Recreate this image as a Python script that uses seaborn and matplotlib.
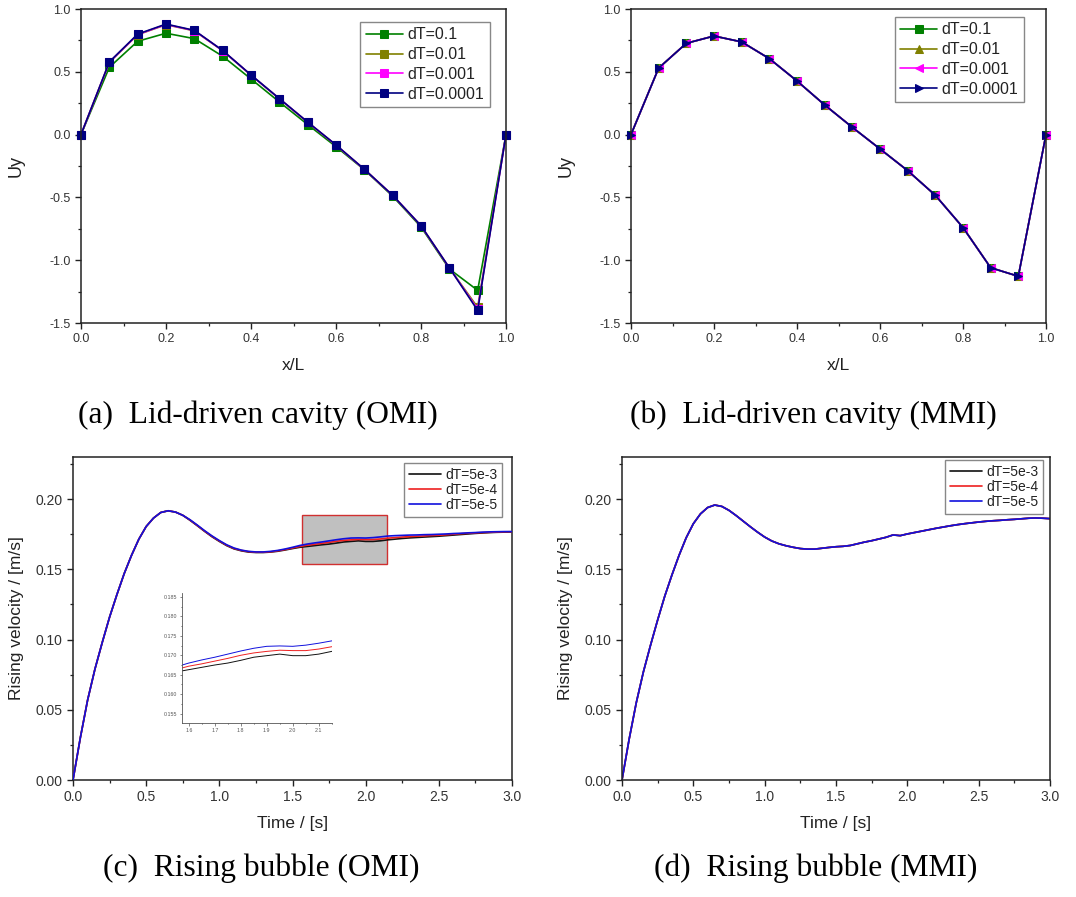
import numpy as np
import pandas as pd
import matplotlib
matplotlib.use("Agg")
import matplotlib.pyplot as plt
from matplotlib.ticker import MultipleLocator, FormatStrFormatter
from matplotlib.patches import Rectangle
import seaborn as sns

# ---------------- data ----------------
x_over_L = [0.0, 0.0667, 0.1333, 0.2, 0.2667, 0.3333, 0.4, 0.4667, 0.5333,
            0.6, 0.6667, 0.7333, 0.8, 0.8667, 0.9333, 1.0]

omi_dt_0_1 = [0, 0.536, 0.743, 0.807, 0.764, 0.624, 0.443, 0.260, 0.080,
              -0.096, -0.280, -0.490, -0.735, -1.070, -1.240, 0]
omi_dt_0_01 = [0, 0.575, 0.795, 0.875, 0.826, 0.668, 0.473, 0.285, 0.098,
               -0.084, -0.277, -0.484, -0.727, -1.062, -1.375, 0]
omi_dt_0_001 = [0, 0.577, 0.797, 0.877, 0.828, 0.669, 0.474, 0.286, 0.099,
                -0.083, -0.277, -0.483, -0.726, -1.061, -1.390, 0]
omi_dt_0_0001 = [0, 0.579, 0.800, 0.880, 0.830, 0.670, 0.475, 0.287, 0.100,
                 -0.082, -0.276, -0.483, -0.725, -1.060, -1.400, 0]

mmi_dt_0_1 = [0, 0.530, 0.727, 0.785, 0.738, 0.605, 0.427, 0.236, 0.058,
              -0.114, -0.287, -0.483, -0.740, -1.060, -1.128, 0]
mmi_dt_0_01 = [0, 0.530, 0.727, 0.785, 0.738, 0.605, 0.427, 0.236, 0.058,
               -0.114, -0.287, -0.483, -0.740, -1.060, -1.128, 0]
mmi_dt_0_001 = [0, 0.530, 0.727, 0.785, 0.738, 0.605, 0.427, 0.236, 0.058,
                -0.114, -0.287, -0.483, -0.740, -1.060, -1.128, 0]
mmi_dt_0_0001 = [0, 0.530, 0.727, 0.785, 0.738, 0.605, 0.427, 0.236, 0.058,
                 -0.114, -0.287, -0.483, -0.740, -1.060, -1.128, 0]

cavity_labels = ["dT=0.1", "dT=0.01", "dT=0.001", "dT=0.0001"]

time_s = [0.00, 0.05, 0.10, 0.15, 0.20, 0.25, 0.30, 0.35, 0.40, 0.45,
          0.50, 0.55, 0.60, 0.65, 0.70, 0.75, 0.80, 0.85, 0.90, 0.95,
          1.00, 1.05, 1.10, 1.15, 1.20, 1.25, 1.30, 1.35, 1.40, 1.45,
          1.50, 1.55, 1.60, 1.65, 1.70, 1.75, 1.80, 1.85, 1.90, 1.95,
          2.00, 2.05, 2.10, 2.15, 2.20, 2.25, 2.30, 2.35, 2.40, 2.45,
          2.50, 2.55, 2.60, 2.65, 2.70, 2.75, 2.80, 2.85, 2.90, 2.95, 3.00]

omi_v_5e3 = [0.0, 0.030, 0.057, 0.079, 0.098, 0.116, 0.132, 0.147, 0.160, 0.1715,
             0.1805, 0.1865, 0.1905, 0.1917, 0.1908, 0.1885, 0.1849, 0.1810, 0.1770, 0.1732,
             0.1699, 0.1669, 0.1646, 0.1632, 0.1623, 0.1620, 0.1620, 0.1623, 0.1629, 0.1638,
             0.1648, 0.1657, 0.1663, 0.1669, 0.1675, 0.1680, 0.1687, 0.1695, 0.1699, 0.1703,
             0.1699, 0.1699, 0.1703, 0.1710, 0.1715, 0.1720, 0.1724, 0.1727, 0.1730, 0.1733,
             0.1736, 0.1740, 0.1744, 0.1748, 0.1752, 0.1756, 0.1759, 0.1762, 0.1764, 0.1765, 0.1766]
omi_v_5e4 = [0.0, 0.030, 0.057, 0.079, 0.098, 0.116, 0.132, 0.147, 0.160, 0.1715,
             0.1805, 0.1865, 0.1905, 0.1917, 0.1908, 0.1885, 0.1851, 0.1812, 0.1772, 0.1735,
             0.1702, 0.1672, 0.1649, 0.1635, 0.1626, 0.1622, 0.1622, 0.1625, 0.1632, 0.1641,
             0.1652, 0.1663, 0.1672, 0.1678, 0.1685, 0.1692, 0.1700, 0.1706, 0.1710, 0.1713,
             0.1712, 0.1712, 0.1716, 0.1722, 0.1726, 0.1730, 0.1733, 0.1736, 0.1738, 0.1741,
             0.1743, 0.1746, 0.1750, 0.1754, 0.1757, 0.1760, 0.1762, 0.1764, 0.1766, 0.1767, 0.1768]
omi_v_5e5 = [0.0, 0.030, 0.057, 0.079, 0.098, 0.116, 0.132, 0.147, 0.160, 0.1715,
             0.1805, 0.1865, 0.1905, 0.1917, 0.1908, 0.1885, 0.1853, 0.1815, 0.1775, 0.1738,
             0.1705, 0.1675, 0.1652, 0.1637, 0.1628, 0.1624, 0.1624, 0.1628, 0.1635, 0.1645,
             0.1657, 0.1670, 0.1680, 0.1688, 0.1695, 0.1703, 0.1711, 0.1718, 0.1723, 0.1724,
             0.1723, 0.1726, 0.1731, 0.1737, 0.1740, 0.1742, 0.1744, 0.1745, 0.1747, 0.1748,
             0.1750, 0.1752, 0.1755, 0.1757, 0.1760, 0.1762, 0.1765, 0.1767, 0.1768, 0.1769, 0.1769]

mmi_v = [0.0, 0.029, 0.055, 0.077, 0.096, 0.114, 0.131, 0.146, 0.160, 0.1725,
         0.1825, 0.1895, 0.1940, 0.1958, 0.1948, 0.1920, 0.1883, 0.1843, 0.1803, 0.1765,
         0.1730, 0.1702, 0.1682, 0.1668, 0.1657, 0.1648, 0.1644, 0.1644, 0.1650, 0.1656,
         0.1661, 0.1664, 0.1670, 0.1682, 0.1694, 0.1704, 0.1716, 0.1728, 0.1745, 0.1740,
         0.1752, 0.1762, 0.1772, 0.1782, 0.1792, 0.1801, 0.1810, 0.1818, 0.1825, 0.1831,
         0.1837, 0.1842, 0.1846, 0.1849, 0.1853, 0.1856, 0.1860, 0.1864, 0.1866, 0.1864, 0.1861]

bubble_labels = ["dT=5e-3", "dT=5e-4", "dT=5e-5"]

# zoom window (x0, x1, y0, y1) of panel (c)
zoom_window = (1.567, 2.146, 0.1535, 0.1884)
inset_xlim = (1.574, 2.151)
inset_ylim = (0.1526, 0.1860)

captions = ["(a)  Lid-driven cavity (OMI)", "(b)  Lid-driven cavity (MMI)",
            "(c)  Rising bubble (OMI)", "(d)  Rising bubble (MMI)"]

# ---------------- style ----------------
sns.set_theme(style="ticks")
plt.rcParams.update({
    "font.family": ["Liberation Sans", "DejaVu Sans"],
    "axes.unicode_minus": False,
    "axes.edgecolor": "#222222",
    "axes.linewidth": 1.1,
    "xtick.color": "#222222",
    "ytick.color": "#222222",
    "xtick.labelcolor": "#333333",
    "ytick.labelcolor": "#333333",
    "xtick.direction": "out",
    "ytick.direction": "out",
    "xtick.major.size": 4.5,
    "ytick.major.size": 4.5,
    "xtick.minor.size": 2.5,
    "ytick.minor.size": 2.5,
    "xtick.major.width": 1.0,
    "ytick.major.width": 1.0,
    "xtick.minor.width": 0.9,
    "ytick.minor.width": 0.9,
    "axes.labelcolor": "#222222",
})

W, H = 1076, 897
fig = plt.figure(figsize=(W / 100, H / 100), dpi=100)


def px_axes(left, top, right, bottom):
    return fig.add_axes([left / W, 1 - bottom / H, (right - left) / W, (bottom - top) / H])


ax_a = px_axes(81, 9, 506, 323)
ax_b = px_axes(631, 9, 1046, 323)
ax_c = px_axes(73, 457, 512, 780)
ax_d = px_axes(622, 457, 1050, 780)

cav_colors = ["#008000", "#808000", "#ff00ff", "#000080"]


def legend(ax, anchor, size, spacing):
    leg = ax.legend(loc="upper right", bbox_to_anchor=anchor, borderaxespad=0,
                    frameon=True, fancybox=False, framealpha=1, edgecolor="#888888",
                    fontsize=size, handlelength=2.3, handletextpad=0.3,
                    labelspacing=spacing, borderpad=0.35)
    leg.get_frame().set_linewidth(1.0)
    for t in leg.get_texts():
        t.set_color("#222222")
    return leg


def style_cavity(ax):
    ax.set_xlim(0, 1)
    ax.set_ylim(-1.5, 1.0)
    ax.xaxis.set_major_locator(MultipleLocator(0.2))
    ax.xaxis.set_minor_locator(MultipleLocator(0.1))
    ax.yaxis.set_major_locator(MultipleLocator(0.5))
    ax.yaxis.set_minor_locator(MultipleLocator(0.25))
    ax.xaxis.set_major_formatter(FormatStrFormatter("%.1f"))
    ax.yaxis.set_major_formatter(FormatStrFormatter("%.1f"))
    ax.tick_params(labelsize=9, pad=3)
    ax.set_xlabel("x/L", fontsize=12.5, labelpad=9)
    ax.set_ylabel("Uy", fontsize=13, labelpad=18)
    for s in ax.spines.values():
        s.set_visible(True)


# (a)
for vals, col, lab in zip([omi_dt_0_1, omi_dt_0_01, omi_dt_0_001, omi_dt_0_0001],
                          cav_colors, cavity_labels):
    sns.lineplot(x=x_over_L, y=vals, ax=ax_a, color=col, marker="s", markersize=5.5,
                 markeredgecolor=col, linewidth=1.2, label=lab, clip_on=False,
                 sort=False, estimator=None)
style_cavity(ax_a)
legend(ax_a, (0.962, 0.959), 11.5, 0.3)

# (b)
mmi_markers = ["s", "^", "<", ">"]
for vals, col, lab, mk in zip([mmi_dt_0_1, mmi_dt_0_01, mmi_dt_0_001, mmi_dt_0_0001],
                              cav_colors, cavity_labels, mmi_markers):
    sns.lineplot(x=x_over_L, y=vals, ax=ax_b, color=col, marker=mk, markersize=6,
                 markeredgecolor=col, linewidth=1.2, label=lab, clip_on=False,
                 sort=False, estimator=None)
style_cavity(ax_b)
legend(ax_b, (0.947, 0.975), 11.5, 0.3)

bub_colors = ["#111111", "#ee2020", "#1010dd"]


def style_bubble(ax):
    ax.set_xlim(0, 3.0)
    ax.set_ylim(0, 0.23)
    ax.xaxis.set_major_locator(MultipleLocator(0.5))
    ax.xaxis.set_minor_locator(MultipleLocator(0.25))
    ax.yaxis.set_major_locator(MultipleLocator(0.05))
    ax.yaxis.set_minor_locator(MultipleLocator(0.025))
    ax.xaxis.set_major_formatter(FormatStrFormatter("%.1f"))
    ax.yaxis.set_major_formatter(FormatStrFormatter("%.2f"))
    ax.tick_params(labelsize=10, pad=3)
    ax.set_xlabel("Time / [s]", fontsize=12.5, labelpad=8)
    ax.set_ylabel("Rising velocity / [m/s]", fontsize=12.5, labelpad=8)
    for s in ax.spines.values():
        s.set_visible(True)


# (c)
zx0, zx1, zy0, zy1 = zoom_window
ax_c.add_patch(Rectangle((zx0, zy0), zx1 - zx0, zy1 - zy0, facecolor="#c0c0c0",
                         edgecolor="#d03030", linewidth=1.0, zorder=1))
for vals, col, lab in zip([omi_v_5e3, omi_v_5e4, omi_v_5e5], bub_colors, bubble_labels):
    sns.lineplot(x=time_s, y=vals, ax=ax_c, color=col, linewidth=1.2, label=lab,
                 sort=False, estimator=None, zorder=3)
style_bubble(ax_c)
legend(ax_c, (0.977, 0.981), 10, 0.08)

# inset
ax_in = px_axes(182, 593, 332, 723)
for vals, col in zip([omi_v_5e3, omi_v_5e4, omi_v_5e5], bub_colors):
    sns.lineplot(x=time_s, y=vals, ax=ax_in, color=col, linewidth=0.7,
                 sort=False, estimator=None, legend=False)
ax_in.set_xlim(*inset_xlim)
ax_in.set_ylim(*inset_ylim)
ax_in.xaxis.set_major_locator(MultipleLocator(0.1))
ax_in.xaxis.set_minor_locator(MultipleLocator(0.05))
ax_in.yaxis.set_major_locator(MultipleLocator(0.005))
ax_in.yaxis.set_minor_locator(MultipleLocator(0.0025))
ax_in.xaxis.set_major_formatter(FormatStrFormatter("%.1f"))
ax_in.yaxis.set_major_formatter(FormatStrFormatter("%.3f"))
ax_in.tick_params(labelsize=3.8, pad=1.5, length=1.8, width=0.5, colors="#555555")
ax_in.tick_params(which="minor", length=1.0, width=0.5)
ax_in.spines["top"].set_visible(False)
ax_in.spines["right"].set_visible(False)
ax_in.spines["left"].set_linewidth(0.6)
ax_in.spines["bottom"].set_linewidth(0.6)
ax_in.spines["left"].set_color("#555555")
ax_in.spines["bottom"].set_color("#555555")
ax_in.set_xlabel("")
ax_in.set_ylabel("")
ax_in.patch.set_alpha(0)

# (d)
for col, lab in zip(bub_colors, bubble_labels):
    sns.lineplot(x=time_s, y=mmi_v, ax=ax_d, color=col, linewidth=1.2, label=lab,
                 sort=False, estimator=None)
style_bubble(ax_d)
legend(ax_d, (0.984, 0.990), 10, 0.08)

# captions
cap_pos = [(78, 423), (630, 423), (103, 876), (654, 876)]
for (cx, cy), txt in zip(cap_pos, captions):
    fig.text(cx / W, 1 - cy / H, txt, ha="left", va="baseline",
             family=["Liberation Serif", "DejaVu Serif"], fontsize=22.7, color="black")

fig.savefig("out.png", dpi=100)
